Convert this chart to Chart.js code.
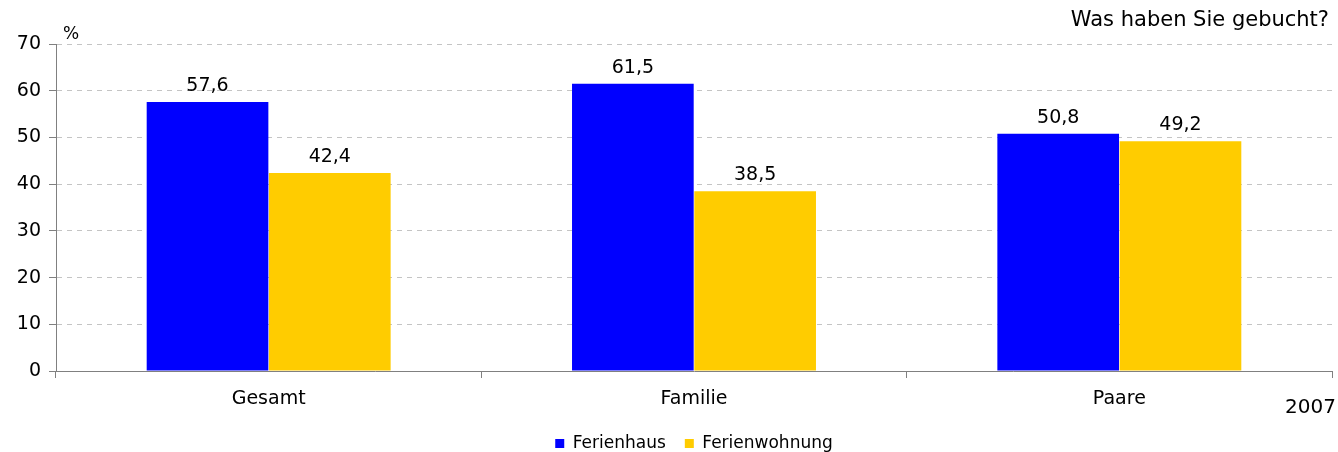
<!DOCTYPE html>
<html>
<head>
<meta charset="utf-8">
<script src="https://cdn.jsdelivr.net/npm/chart.js@4/dist/chart.umd.min.js"></script>
<style>
  html, body { margin: 0; padding: 0; background: #fff; }
  #wrap { width: 1338px; height: 452px; }
</style>
</head>
<body>
<div id="wrap"><canvas id="bookingchart" width="1338" height="452"></canvas></div>
<script>
var categories = ['Gesamt', 'Familie', 'Paare']
var ferienhaus = [57.6, 61.5, 50.8]
var ferienwohnung = [42.4, 38.5, 49.2]
var seriesnames = ['Ferienhaus', 'Ferienwohnung']
var yticks = [0, 10, 20, 30, 40, 50, 60, 70]

var fontfamily = '"DejaVu Sans", Verdana, sans-serif'

// labels above each bar, plus the loose texts round the plot
const extratext = {
  id: 'extratext',
  afterDatasetsDraw(chart) {
    let ctx = chart.ctx
    ctx.save()
    ctx.fillStyle = '#000'
    ctx.font = '19px ' + fontfamily
    ctx.textAlign = 'center'
    ctx.textBaseline = 'alphabetic'
    chart.data.datasets.forEach((ds, i) => {
      chart.getDatasetMeta(i).data.forEach((bar, j) => {
        ctx.fillText(ds.data[j].toFixed(1).replace('.', ','), bar.x, bar.y - 11)
      })
    })
    ctx.textAlign = 'right'
    ctx.font = '20px ' + fontfamily
    ctx.fillText('2007', 1336, 413)
    ctx.font = '21px ' + fontfamily
    ctx.fillText('Was haben Sie gebucht?', 1329, 26)
    ctx.textAlign = 'left'
    ctx.font = '17px ' + fontfamily
    ctx.fillText('%', 63, 39)
    ctx.restore()
  }
}

var chartdata = {
  labels: categories,
  datasets: [
    { label: seriesnames[0], data: ferienhaus, backgroundColor: '#0000FF', borderWidth: 0 },
    { label: seriesnames[1], data: ferienwohnung, backgroundColor: '#FFCC00', borderWidth: 0 }
  ]
}

const config = {
  type: 'bar',
  data: chartdata,
  options: {
    responsive: false,
    animation: false,
    layout: { padding: { top: 44, right: 6, left: 0, bottom: -10 } },
    datasets: { bar: { categoryPercentage: 0.575, barPercentage: 0.995 } },
    scales: {
      y: {
        min: 0,
        max: 70,
        afterFit: scale => { scale.width = 56 },
        afterBuildTicks: scale => { scale.ticks = yticks.map(v => ({ value: v })) },
        border: { color: '#808080', width: 1, dash: [5, 5] },
        grid: {
          color: '#c4c4c4',
          tickColor: '#808080',
          tickLength: 7,
          tickBorderDash: []
        },
        ticks: { color: '#000', font: { family: fontfamily, size: 19 }, padding: 8 }
      },
      x: {
        afterFit: scale => { scale.height = 45 },
        border: { color: '#808080', width: 1 },
        grid: { offset: true, drawOnChartArea: false, tickColor: '#808080', tickLength: 7 },
        ticks: { color: '#000', font: { family: fontfamily, size: 19 }, padding: 10 }
      }
    },
    plugins: {
      legend: {
        position: 'bottom',
        fullSize: false,
        labels: {
          color: '#000',
          font: { family: fontfamily, size: 17 },
          boxWidth: 9,
          boxHeight: 9,
          padding: 19
        }
      },
      title: { display: false },
      tooltip: { enabled: false }
    }
  },
  plugins: [extratext]
}

new Chart(document.getElementById('bookingchart'), config)
</script>
</body>
</html>
